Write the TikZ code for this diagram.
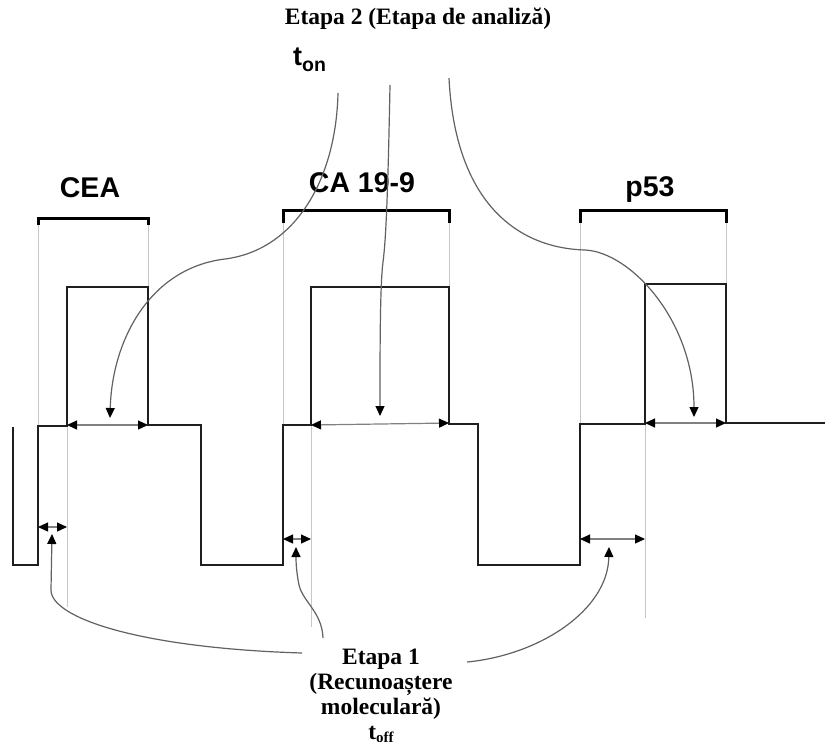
\documentclass[tikz,border=0pt]{standalone}
\usepackage{fontspec}
\setmainfont{Liberation Serif}
\setsansfont{Liberation Sans}
\usetikzlibrary{arrows.meta}
\begin{document}
\begin{tikzpicture}[x=1pt,y=-1pt,
 wave/.style={line width=2.2pt, draw=black!88, line join=miter},
 brace/.style={line width=3pt, draw=black},
 guide/.style={line width=1pt, draw=black!22},
 dim/.style={line width=1.2pt, draw=black!50, {Triangle[length=10pt,width=9pt,color=black]}-{Triangle[length=10pt,width=9pt,color=black]}},
 curve/.style={line width=1.2pt, draw=black!62, -{Triangle[length=10pt,width=9pt,color=black]}},
 sflab/.style={font=\sffamily\bfseries\fontsize{28.5}{32}\selectfont, inner sep=0pt, anchor=base},
 serlab/.style={font=\rmfamily\bfseries\fontsize{23.5}{25}\selectfont, inner sep=0pt, align=center}
]
\useasboundingbox (0,0) rectangle (825,748);

% guides
\draw[guide] (38,224) -- (38,426);
\draw[guide] (67,426) -- (67,607);
\draw[guide] (148,224) -- (148,287);
\draw[guide] (283,222) -- (283,425);
\draw[guide] (311,425) -- (311,627);
\draw[guide] (449,222) -- (449,287);
\draw[guide] (580,222) -- (580,424);
\draw[guide] (645,424) -- (645,618);
\draw[guide] (726,222) -- (726,284);

% waveform
\draw[wave] (13,427) -- (13,565) -- (38,565) -- (38,426) -- (67,426) -- (67,287) -- (148,287) -- (148,425) -- (201,425) -- (201,565) -- (283,565) -- (283,425) -- (311,425) -- (311,287) -- (449,287) -- (449,424) -- (478,424) -- (478,565) -- (580,565) -- (580,424) -- (645,424) -- (645,284) -- (726,284) -- (726,423) -- (825,423);

% brackets
\draw[brace] (38,225) -- (38,218) -- (148,218) -- (148,225);
\draw[brace] (283,223) -- (283,210) -- (449,210) -- (449,223);
\draw[brace] (580,223) -- (580,210) -- (726,210) -- (726,223);

% labels
\node[sflab] (cea) at (90,197) {CEA};
\node[sflab] (ca) at (362,192) {CA 19-9};
\node[sflab] (p53) at (650,196) {p53};
\node[serlab] (title) at (418,19) {Etapa 2 (Etapa de analiză)};
\node[inner sep=0pt, anchor=base west, font=\sffamily\bfseries] (ton) at (293,65) {\fontsize{27}{27}\selectfont t\raisebox{-6pt}{\fontsize{19.5}{19.5}\selectfont on}};
\node[serlab, anchor=north] (etapa1) at (381,649) {Etapa 1\\(Recunoaștere\\moleculară)\\t\raisebox{-3pt}{\fontsize{15}{15}\selectfont off}};

% dimension arrows (t_on)
\coordinate (on1a) at (67,425); \coordinate (on1b) at (148,425);
\coordinate (on2a) at (311,425); \coordinate (on2b) at (449,423);
\coordinate (on3a) at (645,423); \coordinate (on3b) at (726,423);
\draw[dim] (on1a) -- (on1b);
\draw[dim] (on2a) -- (on2b);
\draw[dim] (on3a) -- (on3b);
% dimension arrows (t_off)
\coordinate (off1a) at (38,527); \coordinate (off1b) at (67,527);
\coordinate (off2a) at (283,539); \coordinate (off2b) at (311,539);
\coordinate (off3a) at (580,539); \coordinate (off3b) at (645,539);
\draw[dim] (off1a) -- (off1b);
\draw[dim] (off2a) -- (off2b);
\draw[dim] (off3a) -- (off3b);

% curves from t_on
\coordinate (sA) at (338,93); \coordinate (tA) at (110,418);
\coordinate (sB) at (390,85); \coordinate (tB) at (380,416);
\coordinate (sC) at (449,78); \coordinate (tC) at (694,417);
\draw[curve] (sA) .. controls (336,180) and (295,250) .. (225,259) .. controls (150,268) and (112,340) .. (tA);
\draw[curve] (sB) .. controls (388,190) and (386,240) .. (383,262) .. controls (380,285) and (380,350) .. (tB);
\draw[curve] (sC) .. controls (455,200) and (515,248) .. (585,250) .. controls (630,252) and (694,320) .. (tC);

% curves from Etapa 1
\coordinate (sL) at (302,653); \coordinate (tL) at (52,534);
\coordinate (sM) at (323,638); \coordinate (tM) at (296,547);
\coordinate (sR) at (467,662); \coordinate (tR) at (609,547);
\draw[curve] (sL) .. controls (140,648) and (51,618) .. (51,590) -- (tL);
\draw[curve] (sM) .. controls (322,612) and (303,602) .. (299,585) .. controls (296,570) and (296,560) .. (tM);
\draw[curve] (sR) .. controls (540,655) and (608,610) .. (tR);
\end{tikzpicture}
\end{document}
